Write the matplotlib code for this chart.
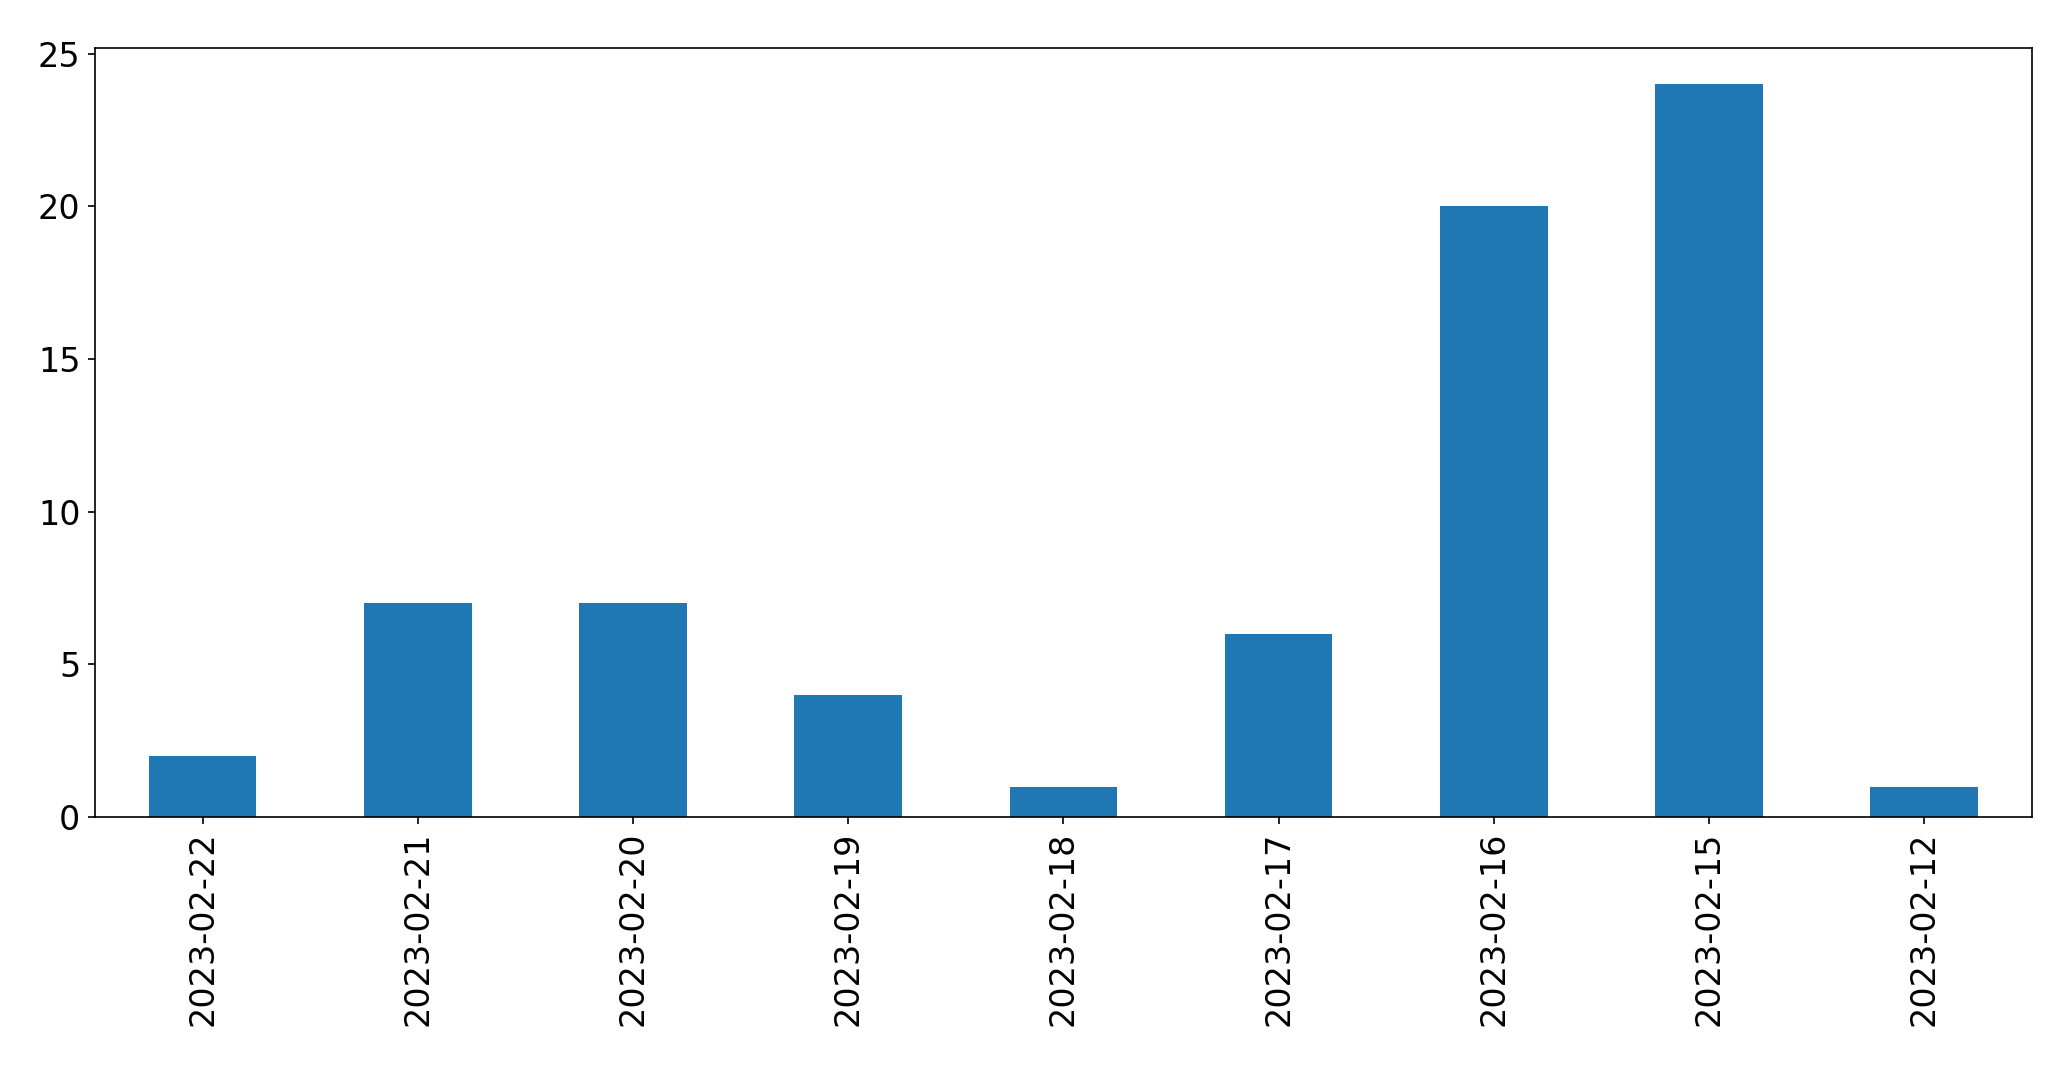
import matplotlib
matplotlib.use("Agg")
import matplotlib.pyplot as plt
import pandas as pd

dates = ["2023-02-22", "2023-02-21", "2023-02-20", "2023-02-19", "2023-02-18",
         "2023-02-17", "2023-02-16", "2023-02-15", "2023-02-12"]
counts = [2, 7, 7, 4, 1, 6, 20, 24, 1]

fig, ax = plt.subplots(figsize=(2071 / 150, 1069 / 150), dpi=150)
pd.Series(counts, index=dates).plot(kind='bar', ax=ax, color='#1f77b4')
ax.tick_params(labelsize=16)
fig.subplots_adjust(left=0.0459, right=0.981, top=0.9554, bottom=0.2357)
fig.savefig("out.png", dpi=150)
